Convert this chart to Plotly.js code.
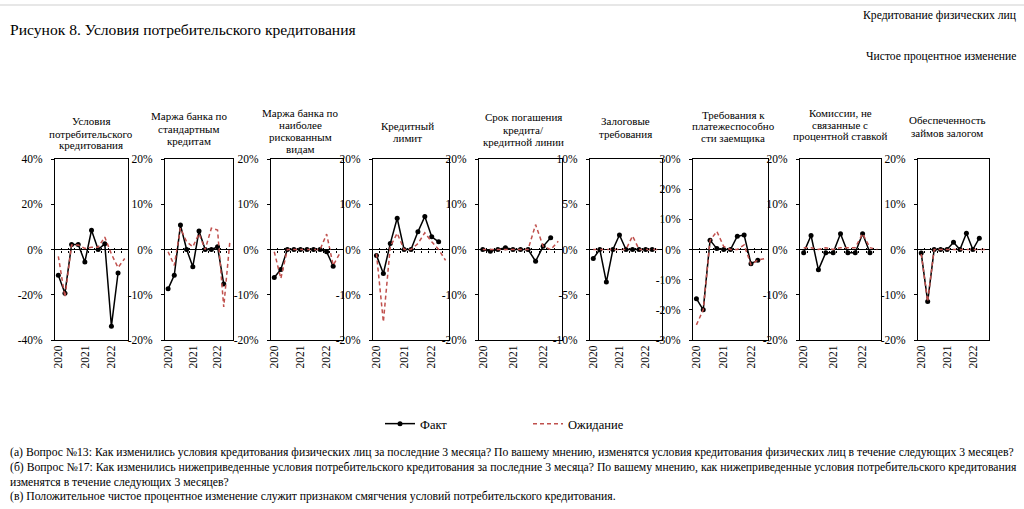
<!DOCTYPE html>
<html><head><meta charset="utf-8">
<script src="https://cdn.plot.ly/plotly-3.0.1.min.js"></script>
<style>html,body{margin:0;padding:0;background:#fff}#chart{width:1024px;height:509px}</style>
</head><body><div id="chart"></div>
<script>
// ---------- data ----------
const quarters = ['2020Q1','2020Q2','2020Q3','2020Q4','2021Q1','2021Q2','2021Q3','2021Q4','2022Q1','2022Q2','2022Q3'];
const yearTickVals = ['2020Q1','2021Q1','2022Q1'];
const yearTickText = ['2020','2021','2022'];

const panelTitles = [
  ['Условия','потребительского','кредитования'],
  ['Маржа банка по','стандартным','кредитам'],
  ['Маржа банка по','наиболее','рискованным','видам'],
  ['Кредитный','лимит'],
  ['Срок погашения','кредита/','кредитной линии'],
  ['Залоговые','требования'],
  ['Требования к','платежеспособно','сти заемщика'],
  ['Комиссии, не','связанные с','процентной ставкой'],
  ['Обеспеченность','займов залогом']
];

// Факт (фактическое изменение), %
const fact1 = [-11.4, -19.3, 2.2, 2.2, -5.5, 8.5, 0, 2.5, -33.9, -10.4];
const fact2 = [-8.7, -5.7, 5.4, 0, -3.8, 4.1, 0, 0, 0.6, -7.6];
const fact3 = [-6.2, -4.4, 0, 0, 0, 0, 0, 0, -0.5, -3.7];
const fact4 = [-1.3, -5.3, 1.3, 6.9, 0, 0, 3.9, 7.3, 2.8, 1.7];
const fact5 = [0, -0.4, 0, 0.4, 0, 0, 0, -2.6, 0.7, 2.6];
const fact6 = [-1.0, 0, -3.6, 0, 1.6, 0, 0, 0, 0, 0];
const fact7 = [-16.3, -20, 3.1, 0.3, 0, 0, 4.4, 4.8, -4.7, -3.6];
const fact8 = [-0.7, 3.1, -4.5, -0.7, -0.7, 3.5, -0.7, -0.7, 3.5, -0.7];
const fact9 = [-0.8, -11.5, 0, 0, 0, 1.6, 0, 3.6, 0, 2.5];

// Ожидание, %
const exp1 = [-3, -21, 2, 2, 0.5, 1, 1, 5.5, -2, -8, -4];
const exp2 = [-0.5, -3.5, 4.7, 1.7, 0.6, 3.5, 0, 4.7, 4.3, -12.7, 1.9];
const exp3 = [-0.5, -6.4, 0, 0, 0, 0, 0, 0, 3.4, -3.5, -0.9];
const exp4 = [-0.9, -16, 0.6, 3.6, 0, 0, 1.3, 3.7, 1.7, 0, -2.4];
const exp5 = [0, 0, 0, 0, 0, 0, 0, 5.5, 0.7, 0, 1.8];
const exp6 = [0, 0, 0, 0, 0, 0, 1.5, 0, 0, 0, 0];
const exp7 = [-25, -20, 3, 6, 1, 0, 0, 1.5, -5, -3.5, -3];
const exp8 = [0.4, 0.4, 0, 0.4, 0, 0.4, 0.4, 0.4, 3.5, 0.4, 0];
const exp9 = [-1, -11.5, 0, 0, 0, 0, 0, 0, 0, 0, 0];

// y tick values per panel, %
const yTicks1 = [-40, -20, 0, 20, 40];
const yTicks2 = [-20, -10, 0, 10, 20];
const yTicks3 = [-20, -10, 0, 10, 20];
const yTicks4 = [-20, -10, 0, 10, 20];
const yTicks5 = [-20, -10, 0, 10, 20];
const yTicks6 = [-10, -5, 0, 5, 10];
const yTicks7 = [-30, -20, -10, 0, 10, 20, 30];
const yTicks8 = [-20, -10, 0, 10, 20];
const yTicks9 = [-20, -10, 0, 10, 20];

const factSeries = [fact1,fact2,fact3,fact4,fact5,fact6,fact7,fact8,fact9];
const expSeries = [exp1,exp2,exp3,exp4,exp5,exp6,exp7,exp8,exp9];
const yTickSets = [yTicks1,yTicks2,yTicks3,yTicks4,yTicks5,yTicks6,yTicks7,yTicks8,yTicks9];

const legendNames = ['Факт','Ожидание'];
const headerTitle = 'Рисунок 8. Условия потребительского кредитования';
const headerRight = 'Кредитование физических лиц';
const unitNote = 'Чистое процентное изменение';
const footnotes = [
  '(а) Вопрос №13: Как изменились условия кредитования физических лиц за последние 3 месяца? По вашему мнению, изменятся условия кредитования физических лиц в течение следующих 3 месяцев?',
  '(б) Вопрос №17: Как изменились нижеприведенные условия потребительского кредитования за последние 3 месяца? По вашему мнению, как нижеприведенные условия потребительского кредитования',
  'изменятся в течение следующих 3 месяцев?',
  '(в) Положительное чистое процентное изменение служит признаком смягчения условий потребительского кредитования.'
];

// ---------- layout geometry ----------
const W = 1024, H = 509;
const FONT = 'Liberation Serif, Times New Roman, serif';
const boxesX = [[55,128],[165,233],[271,343],[373,449],[479,562],[590,662],[693,768],[800,881],[918,989]];
const boxTop = 159, boxBottom = 340;
const titleX = [91, 189, 300, 407, 523, 625, 733, 840, 947];
const titleY = [[121.5,133.5,145.5],[116.5,128.5,141],[113,125,137,149],[126,138],[117,129.5,142],[121.5,134],[115,126.5,138],[113,125,136.5],[120,132.5]];
const footY = [452, 467, 482, 496];

const fx = p => p / W;
const fy = p => 1 - p / H;

const traces = [];
const layout = {
  width: W, height: H,
  margin: {l:0, r:0, t:0, b:0},
  paper_bgcolor: '#fff', plot_bgcolor: 'rgba(0,0,0,0)',
  font: {family: FONT, size: 11, color: '#000'},
  showlegend: true,
  legend: {orientation: 'h', x: fx(380), xanchor: 'left', y: fy(424), yanchor: 'middle',
           font: {family: FONT, size: 12.5, color: '#000'}, entrywidth: 103, bgcolor: 'rgba(0,0,0,0)'},
  annotations: [], shapes: []
};

const catBounds = [];
for (let k = 1; k < quarters.length; k++) catBounds.push(k - 0.5);

const zeroFrac = fy((boxTop + boxBottom) / 2);

for (let i = 0; i < 9; i++) {
  const n = i === 0 ? '' : String(i + 1);
  const xa = 'x' + n, ya = 'y' + n;
  const ticks = yTickSets[i];
  const ymax = Math.max.apply(null, ticks);

  traces.push({
    type: 'scatter', mode: 'lines+markers', name: legendNames[0], legendgroup: 'f', showlegend: i === 0,
    x: quarters.slice(0, factSeries[i].length), y: factSeries[i], xaxis: xa, yaxis: ya,
    line: {color: '#000', width: 1.5}, marker: {color: '#000', size: 5}, hoverinfo: 'skip'
  });
  traces.push({
    type: 'scatter', mode: 'lines', name: legendNames[1], legendgroup: 'e', showlegend: i === 0,
    x: quarters.slice(0, expSeries[i].length), y: expSeries[i], xaxis: xa, yaxis: ya,
    line: {color: '#C0504D', width: 1.5, dash: '4px,3px'}, hoverinfo: 'skip'
  });

  layout['xaxis' + n] = {
    domain: [fx(boxesX[i][0]), fx(boxesX[i][1])], anchor: ya,
    type: 'category', categoryorder: 'array', categoryarray: quarters,
    range: [-0.5, quarters.length - 0.5],
    tickvals: yearTickVals, ticktext: yearTickText, tickangle: -90, ticks: '',
    tickfont: {family: FONT, size: 11.5, color: '#000'},
    showline: true, mirror: true, linecolor: '#000', linewidth: 1,
    showgrid: false, zeroline: false, fixedrange: true
  };
  layout['yaxis' + n] = {
    domain: [fy(boxBottom), fy(boxTop)], anchor: xa,
    range: [-ymax, ymax], tickvals: ticks, ticktext: ticks.map(v => v + '%'),
    ticks: 'outside', ticklen: 3, tickcolor: '#000', ticklabelstandoff: 6,
    tickfont: {family: FONT, size: 11.5, color: '#000'},
    showline: true, mirror: true, linecolor: '#000', linewidth: 1,
    showgrid: false, zeroline: true, zerolinecolor: '#000', zerolinewidth: 1, fixedrange: true
  };

  // cross tick marks on the zero line (category boundaries)
  ['outside','inside'].forEach((t, j) => {
    const idx = 10 + 2 * i + j;
    layout['xaxis' + idx] = {
      overlaying: xa, anchor: 'free', position: zeroFrac, side: 'bottom',
      range: [-0.5, quarters.length - 0.5], tickvals: catBounds, ticks: t, ticklen: 2,
      tickcolor: '#000', tickwidth: 1, showticklabels: false, showline: false,
      showgrid: false, zeroline: false, fixedrange: true
    };
    traces.push({type: 'scatter', x: [], y: [], xaxis: 'x' + idx, yaxis: ya, showlegend: false, hoverinfo: 'skip'});
  });

  panelTitles[i].forEach((line, j) => {
    layout.annotations.push({
      xref: 'paper', yref: 'paper', x: fx(titleX[i]), y: fy(titleY[i][j]),
      xanchor: 'center', yanchor: 'middle', showarrow: false, text: line,
      font: {family: FONT, size: 11, color: '#000'}
    });
  });
}

layout.annotations.push({xref:'paper', yref:'paper', x: fx(8), y: fy(30), xanchor:'left', yanchor:'middle',
  showarrow:false, text: headerTitle, font:{family: FONT, size: 15.6, color:'#000'}});
layout.annotations.push({xref:'paper', yref:'paper', x: fx(1018), y: fy(16), xanchor:'right', yanchor:'middle',
  showarrow:false, text: headerRight, font:{family: FONT, size: 11.7, color:'#000'}});
layout.annotations.push({xref:'paper', yref:'paper', x: fx(1018), y: fy(57), xanchor:'right', yanchor:'middle',
  showarrow:false, text: unitNote, font:{family: FONT, size: 11.6, color:'#000'}});
footnotes.forEach((t, j) => {
  layout.annotations.push({xref:'paper', yref:'paper', x: fx(8), y: fy(footY[j]), xanchor:'left', yanchor:'middle',
    showarrow:false, text: t, font:{family: FONT, size: 11.7, color:'#000'}});
});
layout.shapes.push({type:'line', xref:'paper', yref:'paper', x0: 0, x1: 1, y0: fy(5), y1: fy(5),
  line:{color:'#cfcfcf', width:1}});

Plotly.newPlot('chart', traces, layout, {staticPlot: true, displayModeBar: false});
</script>
</body></html>
